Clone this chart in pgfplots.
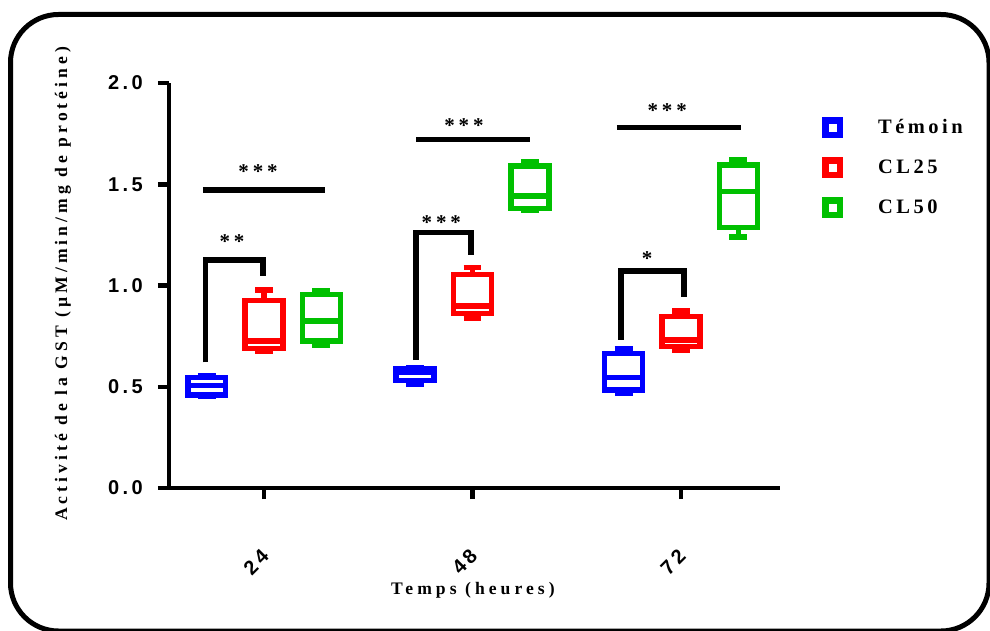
\documentclass[border=0pt]{standalone}
\usepackage{fontspec}
\setmainfont{Liberation Serif}
\newfontfamily\tickfont[LetterSpace=17]{Liberation Sans}
\newfontfamily\labfont[LetterSpace=23]{Liberation Serif}
\newfontfamily\legfont[LetterSpace=17]{Liberation Serif}
\newfontfamily\starfont[LetterSpace=18]{Liberation Serif}
\usepackage{pgfplots}
\pgfplotsset{compat=1.18}
\usepgfplotslibrary{statistics}
\definecolor{cblue}{RGB}{0,0,255}
\definecolor{cred}{RGB}{255,0,0}
\definecolor{cgreen}{RGB}{0,192,0}
\begin{document}
\begin{tikzpicture}
\path[use as bounding box] (0,0) rectangle (990pt,630pt);
\draw[line width=5pt, rounded corners=48pt] (10.5pt,-1pt) rectangle (989pt,615.5pt);
\begin{axis}[
  at={(169pt,142pt)}, anchor=south west,
  scale only axis, width=611pt, height=405pt,
  xmin=0.544, xmax=3.475, ymin=0, ymax=2,
  boxplot/draw direction=y,
  axis x line*=bottom, axis y line*=left,
  axis line style={line width=4.5pt, black},
  tick align=outside, major tick length=11pt,
  tick style={line width=4.5pt, black},
  xtick={1,2,3}, xticklabels={24,48,72},
  ytick={0,0.5,1,1.5,2},
  /pgf/number format/fixed, /pgf/number format/fixed zerofill,
  /pgf/number format/precision=1, /pgf/number format/assume math mode=true,
  ticklabel style={font=\tickfont\bfseries\fontsize{20}{24}\selectfont},
  yticklabel style={anchor=east, inner xsep=15pt},
  xticklabel style={xshift=-8pt, yshift=-63pt, rotate=45, anchor=center, inner sep=0pt},
  xlabel={Temps (heures)},
  ylabel={Activité de la GST (µM/min/mg de protéine)},
  label style={font=\labfont\bfseries\fontsize{17.6}{20}\selectfont, inner sep=0pt},
  xlabel style={at={(axis description cs:0.4975,-0.2625)}, anchor=base},
  ylabel style={at={(axis description cs:-0.1735,0.504)}, anchor=center},
  clip=false,
  legend image code/.code={\draw[#1, line width=6.5pt, fill=white] (-7.25pt,-7.25pt) rectangle (7.25pt,7.25pt);},
  legend cell align=left,
  legend style={at={(axis description cs:1.069,0.916)}, anchor=north west, draw=none, fill=none,
    inner sep=0pt, outer sep=0pt, row sep=19pt, /tikz/column sep=35pt,
    font=\legfont\bfseries\fontsize{20.5}{24}\selectfont,
    nodes={inner sep=0pt, text height=14pt, text depth=3pt}},
]
\addlegendimage{cblue}
\addlegendimage{cred}
\addlegendimage{cgreen}
\legend{Témoin, CL25, CL50}

% 24 h
\addplot[forget plot, cblue, line width=5.5pt, line join=miter, boxplot prepared={draw position=0.725, lower whisker=0.455, lower quartile=0.46, median=0.505, upper quartile=0.545, upper whisker=0.552, box extend=0.182, whisker extend=0.086}] coordinates {};
\addplot[forget plot, cred, line width=5.5pt, line join=miter, boxplot prepared={draw position=1.0, lower whisker=0.675, lower quartile=0.69, median=0.727, upper quartile=0.925, upper whisker=0.978, box extend=0.182, whisker extend=0.086}] coordinates {};
\addplot[forget plot, cgreen, line width=5.5pt, line join=miter, boxplot prepared={draw position=1.275, lower whisker=0.705, lower quartile=0.727, median=0.824, upper quartile=0.955, upper whisker=0.975, box extend=0.182, whisker extend=0.086}] coordinates {};
% 48 h
\addplot[forget plot, cblue, line width=5.5pt, line join=miter, boxplot prepared={draw position=1.725, lower whisker=0.511, lower quartile=0.532, median=0.57, upper quartile=0.59, upper whisker=0.592, box extend=0.182, whisker extend=0.086}] coordinates {};
\addplot[forget plot, cred, line width=5.5pt, line join=miter, boxplot prepared={draw position=2.0, lower whisker=0.838, lower quartile=0.861, median=0.90, upper quartile=1.054, upper whisker=1.09, box extend=0.182, whisker extend=0.086}] coordinates {};
\addplot[forget plot, cgreen, line width=5.5pt, line join=miter, boxplot prepared={draw position=2.275, lower whisker=1.37, lower quartile=1.381, median=1.443, upper quartile=1.589, upper whisker=1.61, box extend=0.182, whisker extend=0.086}] coordinates {};
% 72 h
\addplot[forget plot, cblue, line width=5.5pt, line join=miter, boxplot prepared={draw position=2.725, lower whisker=0.47, lower quartile=0.483, median=0.545, upper quartile=0.663, upper whisker=0.69, box extend=0.182, whisker extend=0.086}] coordinates {};
\addplot[forget plot, cred, line width=5.5pt, line join=miter, boxplot prepared={draw position=3.0, lower whisker=0.68, lower quartile=0.698, median=0.73, upper quartile=0.846, upper whisker=0.875, box extend=0.182, whisker extend=0.086}] coordinates {};
\addplot[forget plot, cgreen, line width=5.5pt, line join=miter, boxplot prepared={draw position=3.275, lower whisker=1.24, lower quartile=1.287, median=1.463, upper quartile=1.594, upper whisker=1.62, box extend=0.182, whisker extend=0.086}] coordinates {};

% significance brackets
\addplot[forget plot, black, line width=5.5pt, line join=miter] coordinates {(0.719,0.62) (0.719,1.127) (0.995,1.127) (0.995,1.045)};
\addplot[forget plot, black, line width=5.5pt] coordinates {(0.707,1.472) (1.293,1.472)};
\addplot[forget plot, black, line width=5.5pt, line join=miter] coordinates {(1.729,0.632) (1.729,1.262) (1.993,1.262) (1.993,1.151)};
\addplot[forget plot, black, line width=5.5pt] coordinates {(1.729,1.721) (2.276,1.721)};
\addplot[forget plot, black, line width=5.5pt, line join=miter] coordinates {(2.712,0.731) (2.712,1.072) (3.014,1.072) (3.014,0.943)};
\addplot[forget plot, black, line width=5.5pt] coordinates {(2.693,1.780) (3.288,1.780)};

\tikzset{star/.style={font=\starfont\bfseries\fontsize{21}{24}\selectfont, anchor=base, inner sep=0pt}}
\node[star] at (axis cs:0.846,1.182) {**};
\node[star] at (axis cs:0.971,1.527) {***};
\node[star] at (axis cs:1.850,1.276) {***};
\node[star] at (axis cs:1.959,1.756) {***};
\node[star] at (axis cs:2.837,1.098) {*};
\node[star] at (axis cs:2.934,1.829) {***};
\end{axis}
\end{tikzpicture}
\end{document}
